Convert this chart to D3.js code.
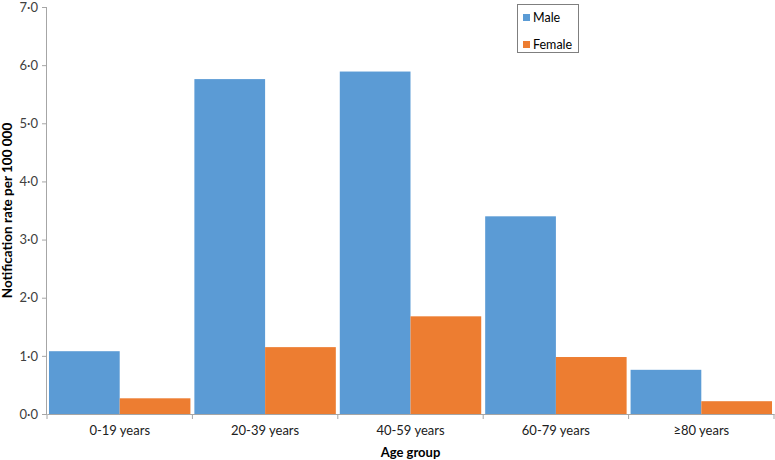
<!DOCTYPE html>
<html><head><meta charset="utf-8">
<script src="https://cdn.jsdelivr.net/npm/d3@7"></script>
<style>body{margin:0;background:#fff}svg{display:block}text{font-family:Lato,"Open Sans",sans-serif}</style>
</head><body>
<svg id="c" width="775" height="460"></svg>
<script>
const categories = ["0-19 years","20-39 years","40-59 years","60-79 years","\u226580 years"];
const seriesNames = ["Male","Female"];
const male = [1.08, 5.76, 5.89, 3.40, 0.76];
const female = [0.27, 1.15, 1.68, 0.98, 0.22];
const yTicks = [0,1,2,3,4,5,6,7];
const colors = ["#5b9bd5","#ed7d31"];

const svg = d3.select("#c");
const m = {l:47, r:1, t:7, b:46};
const W = 775, H = 460;
const x = d3.scaleBand().domain(categories).range([m.l, W-m.r]).paddingInner(0).paddingOuter(0);
const xs = d3.scaleBand().domain(seriesNames).range([0, x.bandwidth()]).paddingOuter(0.028).paddingInner(0);
const y = d3.scaleLinear().domain([0,7]).range([H-m.b, m.t]);
const axisCol = "#a6a6a6";

const data = categories.map((c,i)=>({c, vals:[male[i], female[i]]}));
const g = svg.append("g");
g.selectAll("g.cat").data(data).join("g").attr("transform", d=>`translate(${x(d.c)},0)`)
  .selectAll("rect").data(d=>d.vals.map((v,j)=>({v, s:seriesNames[j], j})))
  .join("rect")
  .attr("x", d=>xs(d.s)).attr("width", xs.bandwidth())
  .attr("y", d=>y(d.v)).attr("height", d=>y(0)-y(d.v))
  .attr("fill", d=>colors[d.j]);

// y axis
const ya = svg.append("g").attr("transform",`translate(${m.l},0)`)
  .call(d3.axisLeft(y).tickValues(yTicks).tickSize(5).tickPadding(4).tickFormat(d=>d3.format(".1f")(d).replace(".","\u00b7")));
ya.select(".domain").attr("stroke",axisCol).attr("d",`M-0.5,${y(7)}V${y(0)}`);
ya.selectAll(".tick line").attr("stroke",axisCol);
ya.selectAll(".tick text").attr("fill","#404040").style("font-size","13px");

// x axis
const xa = svg.append("g").attr("transform",`translate(0,${y(0)})`)
  .call(d3.axisBottom(x).tickSize(0).tickPadding(12));
xa.select(".domain").attr("stroke",axisCol);
xa.selectAll(".tick text").attr("fill","#202020").style("font-size","13px");
const bounds = categories.map(c=>x(c)).concat([x(categories[categories.length-1])+x.bandwidth()]);
xa.selectAll("line.b").data(bounds).join("line").attr("class","b")
  .attr("x1",d=>d).attr("x2",d=>d).attr("y1",0).attr("y2",5).attr("stroke",axisCol);

svg.append("text").attr("x",(m.l+W-m.r)/2).attr("y",457).attr("text-anchor","middle")
  .style("font-size","13px").style("font-weight","bold").attr("fill","#000").text("Age group");
svg.append("text").attr("transform",`translate(12,${(y(0)+y(7))/2}) rotate(-90)`).attr("text-anchor","middle")
  .style("font-size","13.5px").style("font-weight","bold").attr("fill","#000").text("Notification rate per 100 000");

// legend
const lg = svg.append("g").attr("transform","translate(517,4)");
lg.append("rect").attr("x",0.5).attr("y",0.5).attr("width",61).attr("height",48).attr("fill","#fff").attr("stroke","#7f7f7f");
seriesNames.forEach((s,i)=>{
  lg.append("rect").attr("x",6).attr("y",10+i*27).attr("width",7).attr("height",7).attr("fill",colors[i]);
  lg.append("text").attr("x",16).attr("y",18+i*27).style("font-size","12.5px").attr("fill","#000").text(s);
});
</script>
</body></html>
